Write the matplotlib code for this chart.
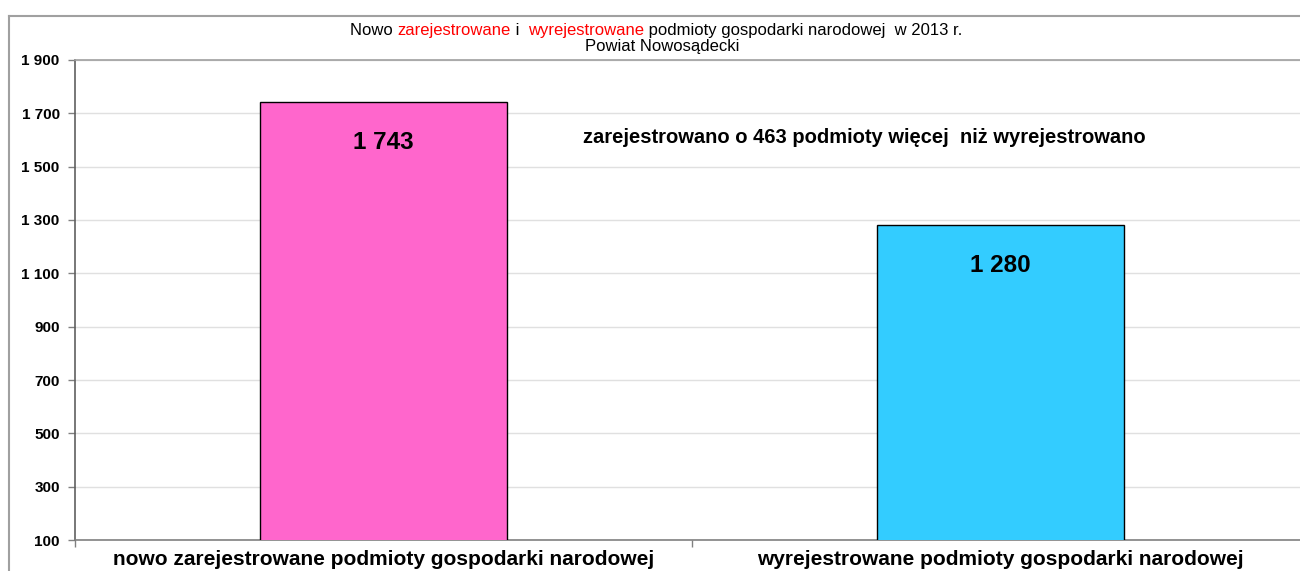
import matplotlib.pyplot as plt
from matplotlib.lines import Line2D
from matplotlib.ticker import FuncFormatter, FixedLocator

plt.rcParams['font.family'] = ['Liberation Sans', 'DejaVu Sans']

categories = ["nowo zarejestrowane podmioty gospodarki narodowej",
              "wyrejestrowane podmioty gospodarki narodowej"]
values = [1743, 1280]
colors = ["#FF66CC", "#33CCFF"]
yticks = [100, 300, 500, 700, 900, 1100, 1300, 1500, 1700, 1900]
note = "zarejestrowano o 463 podmioty więcej  niż wyrejestrowano"

fig = plt.figure(figsize=(13, 5.71), dpi=100)
ax = fig.add_axes([75 / 1300, 1 - 540 / 571, 1225 / 1300, 480 / 571])

x = range(len(values))
ax.bar(x, values, width=0.4, color=colors, edgecolor="black", linewidth=1.0, zorder=3)

ax.set_ylim(100, 1900)
ax.set_xlim(-0.5, -0.5 + 1225 / 617)
ax.set_yticks(yticks)
ax.yaxis.set_major_formatter(FuncFormatter(lambda v, p: f"{int(v):,}".replace(",", " ")))
for lab in ax.get_yticklabels():
    lab.set_fontweight("bold")
ax.tick_params(axis="y", labelsize=11, length=5, width=1, color="#808080", pad=6)
ax.grid(axis="y", color="#E0E0E0", linewidth=1, zorder=0)

ax.set_xticks(list(x))
ax.set_xticklabels(categories, fontsize=15, fontweight="bold")
ax.tick_params(axis="x", length=0, pad=7)
ax.xaxis.set_minor_locator(FixedLocator([-0.5, 0.5, 1.5]))
ax.tick_params(axis="x", which="minor", length=5, color="#808080", width=1)

for s in ["top", "right"]:
    ax.spines[s].set_visible(False)
ax.spines["left"].set_color("#606060")
ax.spines["bottom"].set_color("#808080")
ax.spines["left"].set_linewidth(1.2)
ax.spines["bottom"].set_linewidth(1.2)

for i, v in enumerate(values):
    ax.annotate(f"{v:,}".replace(",", " "), xy=(i, v), xytext=(0, -29),
                textcoords="offset points", ha="center", va="center",
                fontsize=17.5, fontweight="bold", zorder=4)

ax.text(0.779, 1610, note, ha="center", va="center", fontsize=14.5, fontweight="bold")

# outer chart frame
fig.add_artist(Line2D([9 / 1300, 9 / 1300], [0, 1 - 16 / 571], color="#A0A0A0", linewidth=1.5))
fig.add_artist(Line2D([9 / 1300, 1], [1 - 16 / 571, 1 - 16 / 571], color="#A0A0A0", linewidth=1.5))
fig.add_artist(Line2D([75 / 1300, 1], [1 - 60 / 571, 1 - 60 / 571], color="#A0A0A0", linewidth=1.2))

# title with coloured words, placed piece by piece on one baseline
parts = [("Nowo ", "black"), ("zarejestrowane", "red"), (" i  ", "black"),
         ("wyrejestrowane", "red"), (" podmioty gospodarki narodowej  w 2013 r.", "black")]
renderer = fig.canvas.get_renderer()
xpos = 350
for txt, col in parts:
    t = fig.text(xpos / 1300, 1 - 35 / 571, txt, color=col, fontsize=12,
                 va="baseline", ha="left")
    xpos += t.get_window_extent(renderer).width
fig.text(662 / 1300, 1 - 51 / 571, "Powiat Nowosądecki", fontsize=12, ha="center", va="baseline")

fig.savefig("out.png", dpi=100)
